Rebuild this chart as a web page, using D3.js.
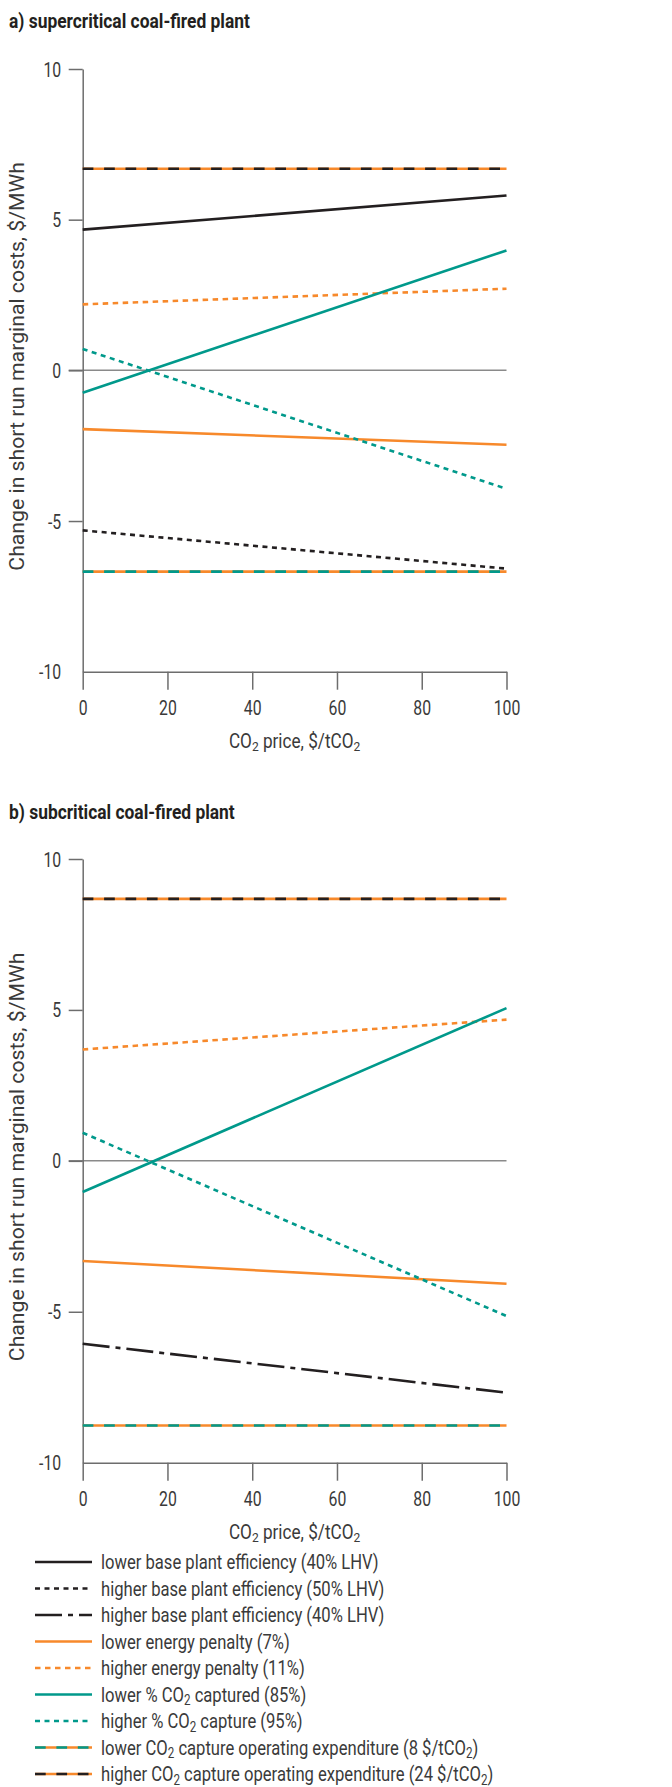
<!DOCTYPE html>
<html>
<head>
<meta charset="utf-8">
<script src="https://cdn.jsdelivr.net/npm/d3@7"></script>
<style>
  body { margin: 0; background: #fff; }
  svg text { font-family: Roboto, "Liberation Sans", sans-serif; font-weight: 400; fill: #3a3a3a; }
  svg text.title { font-weight: 700; fill: #231f20; }
</style>
</head>
<body>
<div id="chart"></div>
<script>
// x values (CO2 price, $/tCO2) where each straight line is read
const xPoints = [0, 100];
const xTicks = [0, 20, 40, 60, 80, 100];
const yTicks = [-10, -5, 0, 5, 10];

const seriesNames = [
    "lower base plant efficiency (40% LHV)",
    "higher base plant efficiency (50% LHV)",
    "higher base plant efficiency (40% LHV)",
    "lower energy penalty (7%)",
    "higher energy penalty (11%)",
    "lower % CO2 captured (85%)",
    "higher % CO2 capture (95%)",
    "lower CO2 capture operating expenditure (8 $/tCO2)",
    "higher CO2 capture operating expenditure (24 $/tCO2)"
];

// a) supercritical: value at CO2 price 0 and 100 (null = not shown)
const superAt0   = [4.67, -5.31, null, -1.95, 2.19, -0.74,  0.71, -6.68, 6.69];
const superAt100 = [5.80, -6.58, null, -2.47, 2.71,  3.98, -3.93, -6.68, 6.69];

// b) subcritical
const subAt0   = [null, null, -6.06, -3.32, 3.69, -1.03,  0.93, -8.77, 8.68];
const subAt100 = [null, null, -7.68, -4.07, 4.68,  5.06, -5.14, -8.77, 8.68];

const black = "#231f20", orange = "#f7892b", teal = "#00998b";

// line look per series: base colour, dash, and optional second colour dashed over it
const lineStyles = [
    {color: black,  dash: null},
    {color: black,  dash: "5,4.5"},
    {color: black,  dash: "27,6,5,6"},
    {color: orange, dash: null},
    {color: orange, dash: "5.5,4.5"},
    {color: teal,   dash: null},
    {color: teal,   dash: "5,4.5"},
    {color: orange, dash: null, over: teal,  overDash: "10.7,10.7"},
    {color: orange, dash: null, over: black, overDash: "10.7,10.7"}
];

// the original type is a condensed face; squeeze text horizontally
const K = 0.81, KT = 0.87, KX = 0.88, KY = 1.01;

const W = 672, H = 1787;
const svg = d3.select("#chart").append("svg")
    .attr("width", W)
    .attr("height", H);

// writes text, turning "CO2" into CO with a subscript 2
function richText(sel, str) {
    let parts = str.split("CO2");
    parts.forEach((p, i) => {
        if (p.length) sel.append("tspan").text(p);
        if (i < parts.length - 1) {
            sel.append("tspan").text("CO");
            sel.append("tspan").attr("baseline-shift", "-22%").attr("font-size", "0.7em").text("2");
        }
    });
}

// put a text at (x, y) squeezed by k
function placed(parent, x, y, k) {
    return parent.append("text")
        .attr("transform", `translate(${x},${y}) scale(${k},1)`);
}

function drawPanel(title, titleY, top, bottom, at0, at100) {
    let g = svg.append("g");

    placed(g, 9, titleY, KT)
        .attr("class", "title")
        .attr("font-size", 20)
        .text(title);

    let x = d3.scaleLinear().domain([0, 100]).range([82.7, 506.5]);
    let y = d3.scaleLinear().domain([-10, 10]).range([bottom, top]);

    // zero line
    g.append("line")
        .attr("x1", x(0) - 14).attr("x2", x(100))
        .attr("y1", y(0)).attr("y2", y(0))
        .attr("stroke", "#8a8a8a")
        .attr("stroke-width", 1.5);

    let yAxis = g.append("g")
        .attr("transform", `translate(${x(0)},0)`)
        .call(d3.axisLeft(y).tickValues(yTicks).tickFormat(d => String(d))
            .tickSizeInner(14).tickSizeOuter(0).tickPadding(7));
    yAxis.select(".domain").attr("stroke", "#6d6d6d").attr("stroke-width", 1.5);
    yAxis.selectAll(".tick line").attr("stroke", "#6d6d6d").attr("stroke-width", 1.5)
        .filter(d => d === -10).remove();
    yAxis.selectAll(".tick text")
        .attr("font-size", 19.5)
        .attr("x", -21.5 / K)
        .attr("dy", "0.36em")
        .attr("transform", `scale(${K},1)`);

    let xAxis = g.append("g")
        .attr("transform", `translate(0,${y(-10)})`)
        .call(d3.axisBottom(x).tickValues(xTicks).tickSizeInner(18).tickSizeOuter(0).tickPadding(11));
    xAxis.select(".domain").attr("stroke", "#6d6d6d").attr("stroke-width", 1.5);
    xAxis.selectAll(".tick line").attr("stroke", "#6d6d6d").attr("stroke-width", 1.5);
    xAxis.selectAll(".tick text")
        .attr("font-size", 19.5)
        .attr("transform", `scale(${K},1)`);

    let xTitle = placed(g, (x(0) + x(100)) / 2, y(-10) + 76, KX)
        .attr("text-anchor", "middle")
        .attr("font-size", 19.5);
    richText(xTitle, "CO2 price, $/tCO2");

    g.append("text")
        .attr("transform", `translate(24,${(top + bottom) / 2 - 4}) rotate(-90) scale(${KY},1)`)
        .attr("text-anchor", "middle")
        .attr("font-size", 21)
        .text("Change in short run marginal costs, $/MWh");

    let line = d3.line().x(d => x(d[0])).y(d => y(d[1]));

    seriesNames.forEach((name, i) => {
        if (at0[i] === null) return;
        let pts = [[xPoints[0], at0[i]], [xPoints[1], at100[i]]];
        let s = lineStyles[i];
        g.append("path")
            .attr("d", line(pts))
            .attr("fill", "none")
            .attr("stroke", s.color)
            .attr("stroke-width", 2.6)
            .attr("stroke-dasharray", s.dash);
        if (s.over) {
            g.append("path")
                .attr("d", line(pts))
                .attr("fill", "none")
                .attr("stroke", s.over)
                .attr("stroke-width", 2.6)
                .attr("stroke-dasharray", s.overDash);
        }
    });
}

drawPanel("a) supercritical coal-fired plant", 28, 69, 671.7, superAt0, superAt100);
drawPanel("b) subcritical coal-fired plant", 819, 859, 1462.7, subAt0, subAt100);

// legend
let legend = svg.append("g").attr("transform", "translate(35,1562)");
seriesNames.forEach((name, i) => {
    let row = legend.append("g").attr("transform", `translate(0,${i * 26.5})`);
    let s = lineStyles[i];
    row.append("line")
        .attr("x1", 0).attr("x2", 57)
        .attr("stroke", s.color)
        .attr("stroke-width", 2.6)
        .attr("stroke-dasharray", s.dash);
    if (s.over) {
        row.append("line")
            .attr("x1", 0).attr("x2", 57)
            .attr("stroke", s.over)
            .attr("stroke-width", 2.6)
            .attr("stroke-dasharray", s.overDash);
    }
    let t = placed(row, 66, 0, K)
        .attr("dy", "0.36em")
        .attr("font-size", 20.5);
    richText(t, name);
});
</script>
</body>
</html>
